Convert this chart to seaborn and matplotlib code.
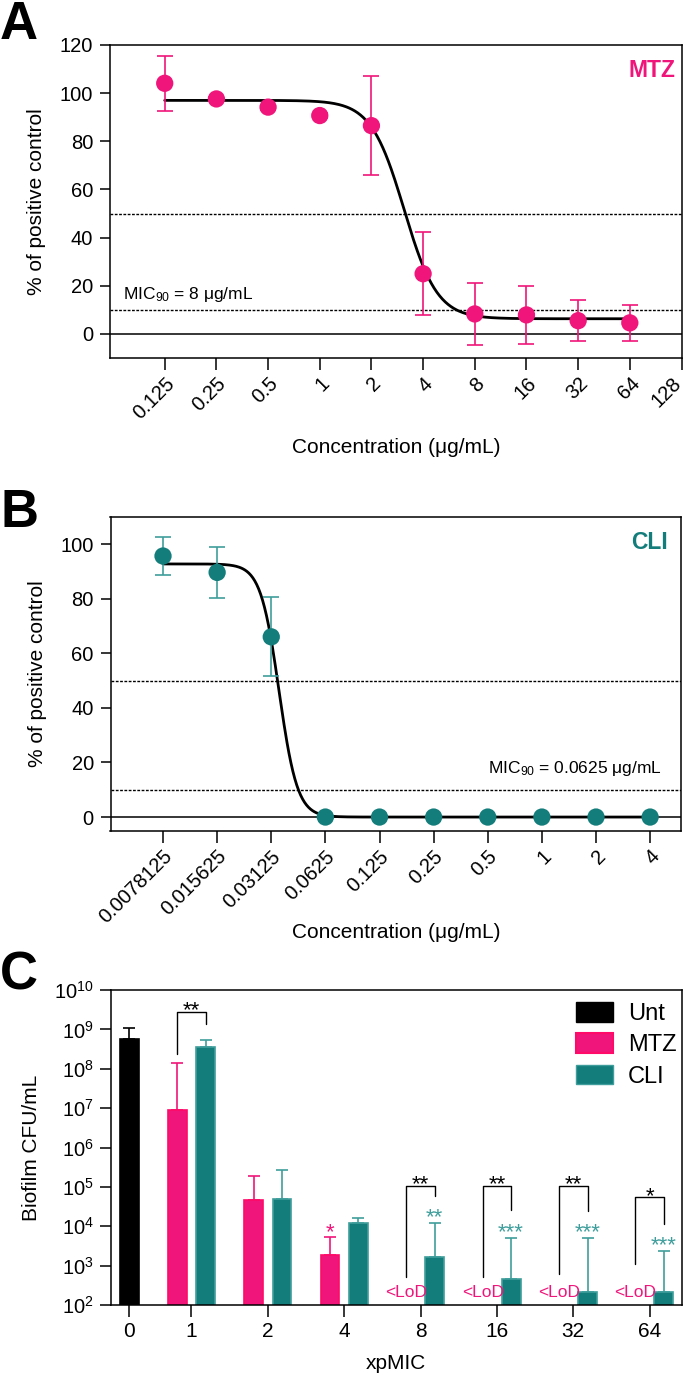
import numpy as np
import pandas as pd
import matplotlib
matplotlib.use("Agg")
import matplotlib.pyplot as plt
from matplotlib.patches import Patch
from matplotlib.ticker import FixedLocator, NullLocator, LogLocator, LogFormatterMathtext
from matplotlib import colors as mcolors
from matplotlib.transforms import ScaledTranslation
import seaborn as sns

# Colours
PINK = "#F0157A"
PINK_EDGE = "#FF0A68"
TEAL = "#127D7B"
TEAL_LIGHT = "#3F9E9C"

# Panel A - MTZ dose response (% of positive control)
mtz_conc = [0.125, 0.25, 0.5, 1, 2, 4, 8, 16, 32, 64]
mtz_pct = [104.1, 97.6, 94.2, 90.7, 86.5, 25.0, 8.3, 7.9, 5.5, 4.6]
mtz_sd = [11.4, 1.0, 1.0, 1.0, 20.5, 17.2, 12.9, 12.1, 8.5, 7.5]
mtz_ticks = ["0.125", "0.25", "0.5", "1", "2", "4", "8", "16", "32", "64", "128"]
mtz_fit = [97.0, 6.3, 3.1, 4.5]  # top, bottom, IC50, hill

# Panel B - CLI dose response
cli_conc = [0.0078125, 0.015625, 0.03125, 0.0625, 0.125, 0.25, 0.5, 1, 2, 4]
cli_pct = [95.6, 89.6, 66.0, 0, 0, 0, 0, 0, 0, 0]
cli_sd = [7.0, 9.4, 14.5, 0, 0, 0, 0, 0, 0, 0]
cli_ticks = ["0.0078125", "0.015625", "0.03125", "0.0625", "0.125",
             "0.25", "0.5", "1", "2", "4"]
cli_fit = [92.7, 0.0, 0.0345, 8.5]

# Panel C - biofilm CFU/mL
mic_groups = ["0", "1", "2", "4", "8", "16", "32", "64"]
unt_cfu = [5.8e8]
unt_err = [1.09e9]
mtz_cfu = [8.8e6, 4.6e4, 1.9e3, np.nan, np.nan, np.nan, np.nan]
mtz_err = [1.43e8, 1.93e5, 5.3e3, np.nan, np.nan, np.nan, np.nan]
cli_cfu = [3.6e8, 4.8e4, 1.2e4, 1.66e3, 450, 210, 215]
cli_err = [5.5e8, 2.74e5, 1.62e4, 1.21e4, 5.0e3, 5.0e3, 2.35e3]
lod_groups = ["8", "16", "32", "64"]

# MTZ vs CLI brackets (log10 heights)
pair_groups = ["1", "8", "16", "32", "64"]
pair_stars = ["**", "**", "**", "**", "*"]
pair_top = [9.43, 5.03, 5.03, 5.03, 4.75]
pair_left = [8.37, 2.70, 2.72, 2.79, 3.03]
pair_right = [9.13, 4.77, 4.41, 4.40, 4.05]
pair_star_y = [9.66, 5.23, 5.23, 5.23, 4.94]
# vs untreated
cli_star_groups = ["8", "16", "32", "64"]
cli_stars = ["**", "***", "***", "***"]
cli_star_y = [4.39, 4.02, 4.02, 3.69]
mtz_star_groups = ["4"]
mtz_stars = ["*"]
mtz_star_y = [4.02]

sns.set_style("ticks")
plt.rcParams["font.family"] = ["Liberation Sans", "DejaVu Sans"]
plt.rcParams["mathtext.fontset"] = "custom"
plt.rcParams["mathtext.rm"] = "Liberation Sans"
plt.rcParams["mathtext.it"] = "Liberation Sans:italic"
plt.rcParams["mathtext.bf"] = "Liberation Sans:bold"
plt.rcParams["axes.linewidth"] = 1.1
plt.rcParams["axes.edgecolor"] = "black"
for key in ["text.color", "axes.labelcolor", "xtick.color", "ytick.color",
            "xtick.labelcolor", "ytick.labelcolor"]:
    plt.rcParams[key] = "black"

STAR_SIZE = 16
STAR_DROP = 0.32  # star glyph centre sits above the baseline (in decades)


def fourpl(x, top, bottom, ic50, hill):
    return bottom + (top - bottom) / (1 + (x / ic50) ** hill)


def dose_panel(ax, conc, pct, sd, fit, color, err_color, ticks, xlim, ylim, yticks,
               name, name_x, name_y, mic_text, mic_x, mic_y, mic_ha):
    xs = np.geomspace(conc[0], conc[-1], 500)
    curve = pd.DataFrame({"x": xs, "y": fourpl(xs, *fit)})
    ax.axhline(0, color="black", lw=1.1, zorder=1)
    ax.axhline(50, color="black", lw=1.0, ls=(0, (2, 1.1)), zorder=1)
    ax.axhline(10, color="black", lw=1.0, ls=(0, (2, 1.1)), zorder=1)
    sns.lineplot(data=curve, x="x", y="y", color="black", lw=2, estimator=None,
                 ax=ax, zorder=2)
    ax.errorbar(conc, pct, yerr=sd, fmt="none", ecolor=err_color, elinewidth=1.2,
                capsize=6, capthick=1.2, zorder=3)
    pts = pd.DataFrame({"conc": conc, "pct": pct})
    sns.scatterplot(data=pts, x="conc", y="pct", color=color, s=155,
                    edgecolor="none", ax=ax, zorder=4, legend=False)
    ax.set_xscale("log", base=2)
    ax.xaxis.set_major_locator(FixedLocator([float(t) for t in ticks]))
    ax.xaxis.set_minor_locator(NullLocator())
    ax.set_xticklabels(ticks)
    ax.set_xlim(*xlim)
    ax.set_ylim(*ylim)
    ax.set_yticks(yticks)
    ax.tick_params(axis="x", length=8.5, width=1.1, labelsize=14.5, pad=3)
    ax.tick_params(axis="y", length=7, width=1.1, labelsize=14.5, pad=5)
    plt.setp(ax.get_xticklabels(), rotation=45, ha="right", rotation_mode="anchor")
    for s in ax.spines.values():
        s.set_visible(True)
        s.set_linewidth(1.1)
    ax.set_ylabel("% of positive control", fontsize=15)
    ax.yaxis.set_label_coords(-0.112, 0.5)
    ax.set_xlabel("Concentration (μg/mL)", fontsize=15, va="top")
    ax.text(name_x, name_y, name, transform=ax.get_yaxis_transform(), ha="right",
            va="center", color=color, fontsize=16.5, fontweight="bold")
    ax.text(mic_x, mic_y, mic_text, ha=mic_ha, va="center", fontsize=12.5)


fig = plt.figure(figsize=(6.84, 13.8), dpi=100)
W, H = 684.0, 1380.0


def add_axes(l, r, t, b):
    return fig.add_axes([l / W, 1 - b / H, (r - l) / W, (b - t) / H])


axA = add_axes(110, 681.5, 45, 358)
axB = add_axes(110.5, 681, 516.7, 830.7)
axC = add_axes(110.5, 682, 990, 1305)

dose_panel(axA, mtz_conc, mtz_pct, mtz_sd, mtz_fit, PINK, PINK, mtz_ticks,
           (0.06, 128), (-10, 120), [0, 20, 40, 60, 80, 100, 120],
           "MTZ", 0.99, 109.6, "MIC$_{90}$ = 8 μg/mL", 0.0713, 16.3, "left")
axA.xaxis.set_label_coords(0.5, -0.255)
# keep the last rotated label ("128") inside the figure edge
last = axA.get_xticklabels()[-1]
last.set_transform(last.get_transform() + ScaledTranslation(-7 / 72, 0, fig.dpi_scale_trans))

dose_panel(axB, cli_conc, cli_pct, cli_sd, cli_fit, TEAL, TEAL_LIGHT, cli_ticks,
           (0.003988, 5.94), (-5, 110), [0, 20, 40, 60, 80, 100],
           "CLI", 0.977, 100.5, "MIC$_{90}$ = 0.0625 μg/mL", 4.67, 17.9, "right")
axB.xaxis.set_label_coords(0.5, -0.295)

# ---- Panel C ----
BAR_W = 0.246
OFF = 0.186
group_pos = {g: (0.189 if i == 0 else float(i)) for i, g in enumerate(mic_groups)}

rows = [{"pos": group_pos["0"], "cfu": unt_cfu[0], "treatment": "Unt"}]
for g, m, c in zip(mic_groups[1:], mtz_cfu, cli_cfu):
    if not np.isnan(m):
        rows.append({"pos": group_pos[g] - OFF, "cfu": m, "treatment": "MTZ"})
    rows.append({"pos": group_pos[g] + OFF, "cfu": c, "treatment": "CLI"})
df = pd.DataFrame(rows)

palette = {"Unt": "black", "MTZ": PINK, "CLI": TEAL}
edges = {mcolors.to_hex("black"): "black", mcolors.to_hex(PINK): PINK_EDGE,
         mcolors.to_hex(TEAL): TEAL_LIGHT}
sns.barplot(data=df, x="pos", y="cfu", hue="treatment", hue_order=["Unt", "MTZ", "CLI"],
            palette=palette, native_scale=True, dodge=False, saturation=1,
            errorbar=None, legend=False, ax=axC, zorder=2)
for bar in axC.patches:
    c = bar.get_x() + bar.get_width() / 2
    bar.set_width(BAR_W)
    bar.set_x(c - BAR_W / 2)
    bar.set_edgecolor(edges.get(mcolors.to_hex(bar.get_facecolor()), "black"))
    bar.set_linewidth(1.2)

axC.set_yscale("log")


# error bars (upper only)
def up_err(ax, x, y, top, color):
    x, y, top = np.array(x, float), np.array(y, float), np.array(top, float)
    ok = ~np.isnan(y)
    ax.errorbar(x[ok], y[ok], yerr=[np.zeros(ok.sum()), top[ok] - y[ok]], fmt="none",
                ecolor=color, elinewidth=1.2, capsize=4, capthick=1.2, zorder=1)


up_err(axC, [group_pos["0"]], unt_cfu, unt_err, "black")
up_err(axC, [group_pos[g] - OFF for g in mic_groups[1:]], mtz_cfu, mtz_err, PINK)
up_err(axC, [group_pos[g] + OFF for g in mic_groups[1:]], cli_cfu, cli_err, TEAL_LIGHT)

# brackets MTZ vs CLI
for g, s, t, lft, rgt, sy in zip(pair_groups, pair_stars, pair_top, pair_left,
                                 pair_right, pair_star_y):
    x0, x1 = group_pos[g] - OFF, group_pos[g] + OFF
    axC.plot([x0, x0, x1, x1], [10 ** lft, 10 ** t, 10 ** t, 10 ** rgt],
             color="black", lw=1.0, zorder=3)
    axC.text(group_pos[g], 10 ** (sy - STAR_DROP), s, ha="center", va="baseline",
             fontsize=STAR_SIZE, color="black")
for g, s, y in zip(cli_star_groups, cli_stars, cli_star_y):
    axC.text(group_pos[g] + OFF, 10 ** (y - STAR_DROP), s, ha="center", va="baseline",
             fontsize=STAR_SIZE, color=TEAL_LIGHT)
for g, s, y in zip(mtz_star_groups, mtz_stars, mtz_star_y):
    axC.text(group_pos[g] - OFF, 10 ** (y - STAR_DROP), s, ha="center", va="baseline",
             fontsize=STAR_SIZE, color=PINK)
for g in lod_groups:
    axC.text(group_pos[g] - OFF, 10 ** 2.32, "<LoD", ha="center", va="center",
             fontsize=12.5, color=PINK)

axC.set_ylim(1e2, 1e10)
axC.yaxis.set_major_locator(LogLocator(base=10, numticks=20))
axC.yaxis.set_minor_locator(NullLocator())
axC.yaxis.set_major_formatter(LogFormatterMathtext())
axC.set_xlim(-0.058, 7.423)
axC.xaxis.set_major_locator(FixedLocator([group_pos[g] for g in mic_groups]))
axC.xaxis.set_minor_locator(NullLocator())
axC.set_xticklabels(mic_groups)
axC.tick_params(axis="x", length=8.5, width=1.1, labelsize=15, pad=4)
axC.tick_params(axis="y", length=8, width=1.1, labelsize=14.5, pad=4)
for s in axC.spines.values():
    s.set_visible(True)
    s.set_linewidth(1.1)
axC.set_ylabel("Biofilm CFU/mL", fontsize=15)
axC.yaxis.set_label_coords(-0.121, 0.5)
axC.set_xlabel("xpMIC", fontsize=15, va="top")
axC.xaxis.set_label_coords(0.5, -0.155)

handles = [Patch(facecolor="black", edgecolor="black"),
           Patch(facecolor=PINK, edgecolor=PINK_EDGE, lw=1.5),
           Patch(facecolor=TEAL, edgecolor=TEAL_LIGHT, lw=1)]
axC.legend(handles, ["Unt", "MTZ", "CLI"], loc="upper left",
           bbox_to_anchor=(0.8145, 0.962), frameon=False, fontsize=17,
           handlelength=1.55, handleheight=0.9, handletextpad=0.66,
           labelspacing=0.36, borderpad=0, borderaxespad=0)

# panel letters
for letter, top in zip(["A", "B", "C"], [0, 488, 951]):
    fig.text(0.0, 1 - top / H, letter, ha="left", va="top", fontsize=38,
             fontweight="bold")

fig.savefig("out.png", dpi=100)
